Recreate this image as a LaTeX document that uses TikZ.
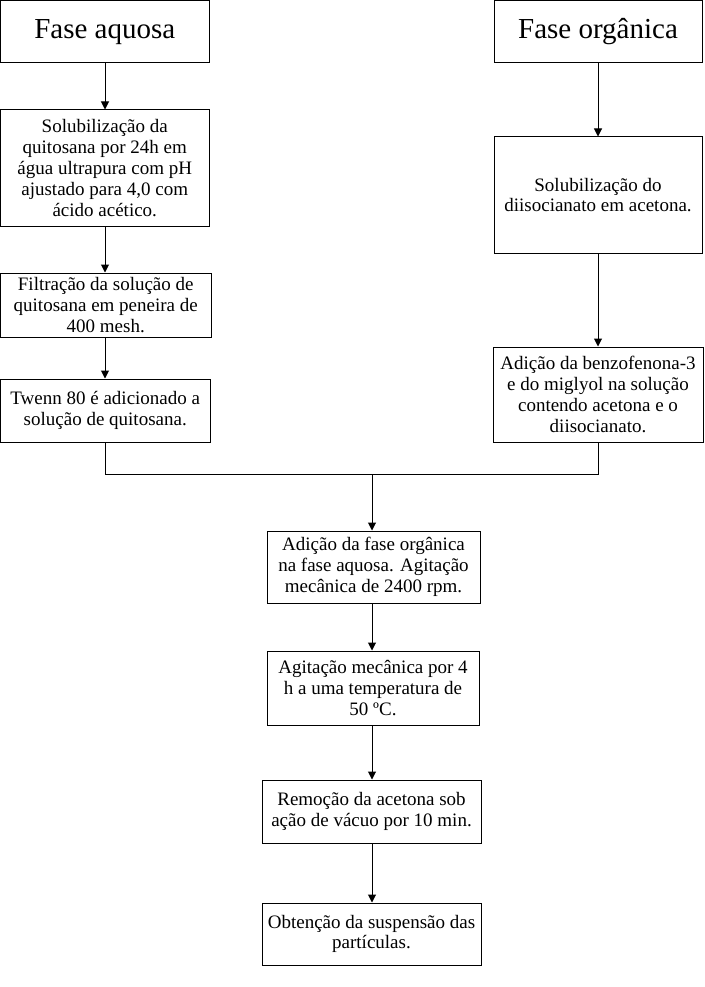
\documentclass[tikz,border=0pt]{standalone}
\usepackage{fontspec}
\setmainfont{Liberation Serif}
\usetikzlibrary{arrows.meta,calc}
\begin{document}
\begin{tikzpicture}[x=1pt,y=-1pt,
  box/.style={draw=black,line width=1pt,rectangle,inner sep=0pt,align=center,
    font=\fontsize{19}{20.8}\selectfont},
  title/.style={box,font=\fontsize{29}{34}\selectfont},
  arr/.style={-{Triangle[length=8pt,width=8pt]},line width=1pt},
  ln/.style={line width=1pt}]
\useasboundingbox (0,0) rectangle (704,987);
\newcommand{\bx}[6]{\node[#6,minimum width={#4-#2},minimum height={#5-#3}] (#1) at ({(#2+#4)/2},{(#3+#5)/2})}
% left column
\bx{a0}{0.5}{0.5}{209}{63}{title} {Fase aquosa};
\bx{a1}{0.5}{110}{209}{226}{box} {Solubilização da\\quitosana por 24h em\\água ultrapura com pH\\ajustado para 4,0 com\\ácido acético.};
\bx{a2}{0.5}{273}{211}{337}{box} {Filtração da solução de\\quitosana em peneira de\\400 mesh.};
\bx{a3}{0.5}{379}{210}{442}{box} {Twenn 80 é adicionado a\\solução de quitosana.};
% right column
\bx{b0}{494}{0.5}{702}{63}{title} {Fase orgânica};
\bx{b1}{494}{137}{702}{253}{box} {Solubilização do\\diisocianato em acetona.};
\bx{b2}{493}{347}{703}{442}{box} {Adição da benzofenona-3\\e do miglyol na solução\\contendo acetona e o\\diisocianato.};
% center column
\bx{c1}{267}{531}{480}{603}{box} {Adição da fase orgânica\\na fase aquosa. Agitação\\mecânica de 2400 rpm.};
\bx{c2}{267}{651}{479}{725}{box} {Agitação mecânica por 4\\h a uma temperatura de\\50 ºC.};
\bx{c3}{262}{780}{481}{843}{box} {Remoção da acetona sob\\ação de vácuo por 10 min.};
\bx{c4}{262}{903}{481}{965}{box} {Obtenção da suspensão das\\partículas.};
\coordinate (m) at (372,474.5);
% connectors
\draw[arr] (a0.south -| 105,0) -- (a1.north -| 105,0);
\draw[arr] (a1.south -| 105,0) -- (a2.north -| 105,0);
\draw[arr] (a2.south -| 105,0) -- (a3.north -| 105,0);
\draw[arr] (b0.south -| 598,0) -- (b1.north -| 598,0);
\draw[arr] (b1.south -| 598,0) -- (b2.north -| 598,0);
\draw[ln] (a3.south -| 105,0) |- (m) -| (b2.south -| 598,0);
\draw[arr] (m) -- (m |- c1.north);
\draw[arr] (c1.south -| m) -- (c2.north -| m);
\draw[arr] (c2.south -| m) -- (c3.north -| m);
\draw[arr] (c3.south -| m) -- (c4.north -| m);
\end{tikzpicture}
\end{document}
